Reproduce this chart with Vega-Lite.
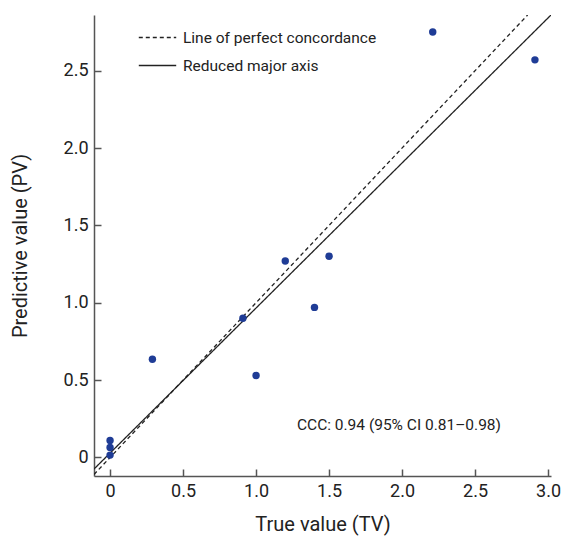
{
  "$schema": "https://vega.github.io/schema/vega-lite/v6.json",
  "autosize": "none",
  "padding": {"left": 94, "top": 15, "right": 10, "bottom": 63},
  "width": 457,
  "height": 461,
  "config": {
    "font": "Roboto",
    "view": {"stroke": null},
    "axis": {
      "grid": false,
      "domainColor": "#555555",
      "domainWidth": 1.5,
      "tickColor": "#555555",
      "tickWidth": 1.5,
      "tickSize": -7,
      "labelFont": "Roboto",
      "titleFont": "Roboto",
      "labelFontSize": 18,
      "titleFontSize": 20,
      "labelColor": "#222222",
      "titleColor": "#222222",
      "titleFontWeight": "normal"
    }
  },
  "datasets": {
    "points": [
      {"tv": 0, "pv": 0.11},
      {"tv": 0, "pv": 0.065},
      {"tv": 0, "pv": 0.015},
      {"tv": 0.29, "pv": 0.635},
      {"tv": 0.91, "pv": 0.9},
      {"tv": 1.0, "pv": 0.53},
      {"tv": 1.2, "pv": 1.27},
      {"tv": 1.4, "pv": 0.97},
      {"tv": 1.5, "pv": 1.3},
      {"tv": 2.21, "pv": 2.75},
      {"tv": 2.91, "pv": 2.57}
    ],
    "lines": [
      {"series": "Line of perfect concordance", "tv": -0.11, "pv": -0.11},
      {"series": "Line of perfect concordance", "tv": 2.86, "pv": 2.86},
      {"series": "Reduced major axis", "tv": -0.11, "pv": -0.075},
      {"series": "Reduced major axis", "tv": 3.02, "pv": 2.86}
    ],
    "note": [
      {"tv": 1.28, "pv": 0.21, "label": "CCC: 0.94 (95% CI 0.81–0.98)"}
    ]
  },
  "encoding": {
    "x": {
      "field": "tv", "type": "quantitative",
      "scale": {"domain": [-0.11, 3.02], "nice": false, "zero": false},
      "axis": {
        "title": "True value (TV)",
        "values": [0, 0.5, 1, 1.5, 2, 2.5, 3],
        "labelExpr": "datum.value == 0 ? '0' : format(datum.value, '.1f')",
        "labelPadding": 13,
        "titlePadding": 14
      }
    },
    "y": {
      "field": "pv", "type": "quantitative",
      "scale": {"domain": [-0.12, 2.86], "nice": false, "zero": false},
      "axis": {
        "title": "Predictive value (PV)",
        "values": [0, 0.5, 1, 1.5, 2, 2.5],
        "labelExpr": "datum.value == 0 ? '0' : format(datum.value, '.1f')",
        "labelPadding": 13,
        "titlePadding": 33
      }
    }
  },
  "layer": [
    {
      "data": {"name": "lines"},
      "mark": {"type": "line", "color": "#222222", "strokeWidth": 1.3, "clip": true},
      "encoding": {
        "strokeDash": {
          "field": "series", "type": "nominal",
          "scale": {"domain": ["Line of perfect concordance", "Reduced major axis"], "range": [[4, 3], [1, 0]]},
          "legend": {
            "title": null,
            "orient": "none",
            "legendX": 44,
            "legendY": 3,
            "symbolType": "stroke",
            "symbolSize": 1400,
            "symbolStrokeWidth": 1.3,
            "symbolStrokeColor": "#222222",
            "labelFont": "Roboto",
            "labelFontSize": 15.5,
            "labelLimit": 400,
            "labelColor": "#222222",
            "rowPadding": -30,
            "labelOffset": 6
          }
        }
      }
    },
    {
      "data": {"name": "points"},
      "mark": {"type": "point", "filled": true, "opacity": 1, "color": "#1f3c96", "size": 55}
    },
    {
      "data": {"name": "note"},
      "mark": {"type": "text", "align": "left", "baseline": "middle", "font": "Roboto", "fontSize": 15.5, "color": "#222222"},
      "encoding": {"text": {"field": "label"}}
    }
  ]
}
